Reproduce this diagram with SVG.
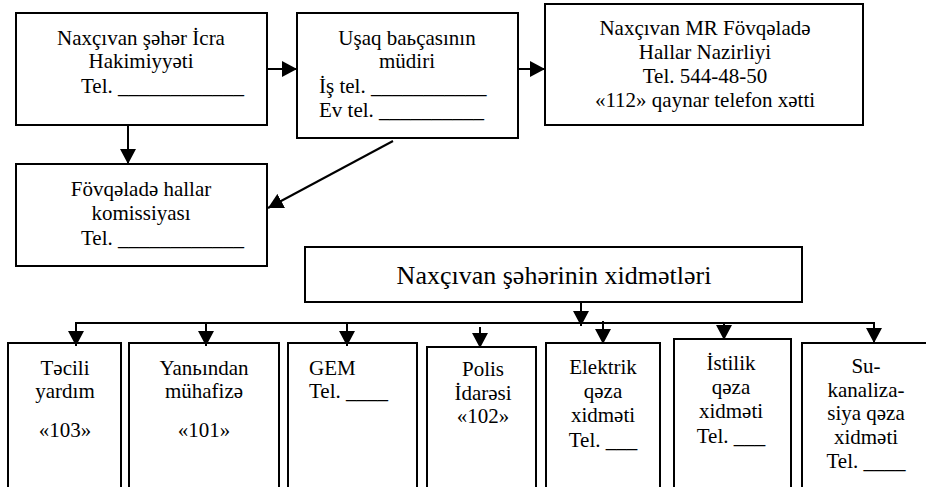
<svg xmlns="http://www.w3.org/2000/svg" width="926" height="487" viewBox="0 0 926 487">
<style>
.box{fill:#fff;stroke:#000;stroke-width:2}
.s{font-family:'Liberation Serif','Times New Roman',serif;font-size:21px;fill:#000}
.c{text-anchor:middle}
.conn path{fill:none;stroke:#000;stroke-width:2}
</style>
<defs>
<marker id="ah" viewBox="0 0 15 16" refX="15" refY="8" markerWidth="15" markerHeight="16" markerUnits="userSpaceOnUse" orient="auto">
<path d="M0,0 L15,8 L0,16 Z" fill="#000"/>
</marker>
</defs>
<rect width="926" height="487" fill="#fff"/>
<g id="icra">
<rect class="box" x="16" y="13" width="251" height="112"/>
<text class="s c" x="141" y="45">Naxçıvan şəhər İcra</text>
<text class="s c" x="141" y="68">Hakimiyyəti</text>
<text class="s" x="81" y="93">Tel. ____________</text>
</g>
<g id="mudir">
<rect class="box" x="297" y="13" width="221" height="125"/>
<text class="s c" x="407" y="45">Uşaq baьçasının</text>
<text class="s c" x="407" y="68">müdiri</text>
<text class="s" x="319" y="93">İş tel. ___________</text>
<text class="s" x="319" y="117">Ev tel. __________</text>
</g>
<g id="nazirlik">
<rect class="box" x="545" y="4" width="318" height="121"/>
<text class="s c" x="705" y="35">Naxçıvan MR Fövqəladə</text>
<text class="s c" x="705" y="59">Hallar Nazirliyi</text>
<text class="s c" x="705" y="83">Tel. 544-48-50</text>
<text class="s c" x="705" y="107">«112» qaynar telefon xətti</text>
</g>
<g id="komissiya">
<rect class="box" x="16" y="164" width="251" height="102"/>
<text class="s c" x="141" y="196">Fövqəladə hallar</text>
<text class="s c" x="141" y="220">komissiyası</text>
<text class="s" x="81" y="245">Tel. ____________</text>
</g>
<g id="xidmetler">
<rect class="box" x="305" y="247" width="497" height="55"/>
<text class="s c" x="554" y="284" style="font-size:26px">Naxçıvan şəhərinin xidmətləri</text>
</g>
<g id="tecili">
<rect class="box" x="8" y="343" width="113" height="160"/>
<text class="s c" x="65" y="375">Təcili</text>
<text class="s c" x="65" y="398">yardım</text>
<text class="s c" x="65" y="437">«103»</text>
</g>
<g id="yangin">
<rect class="box" x="129" y="343" width="150" height="160"/>
<text class="s c" x="204" y="375">Yanьından</text>
<text class="s c" x="204" y="398">mühafizə</text>
<text class="s c" x="204" y="437">«101»</text>
</g>
<g id="gem">
<rect class="box" x="288" y="343" width="129" height="160"/>
<text class="s" x="309" y="375">GEM</text>
<text class="s" x="309" y="398">Tel. ____</text>
</g>
<g id="polis">
<rect class="box" x="427" y="347" width="109" height="160"/>
<text class="s c" x="483" y="376">Polis</text>
<text class="s c" x="483" y="400">İdarəsi</text>
<text class="s c" x="483" y="423">«102»</text>
</g>
<g id="elektrik">
<rect class="box" x="546" y="343" width="114" height="160"/>
<text class="s c" x="603" y="374">Elektrik</text>
<text class="s c" x="603" y="398">qəza</text>
<text class="s c" x="603" y="422">xidməti</text>
<text class="s c" x="603" y="447">Tel. ___</text>
</g>
<g id="istilik">
<rect class="box" x="674" y="339" width="117" height="160"/>
<text class="s c" x="731" y="370">İstilik</text>
<text class="s c" x="731" y="394">qəza</text>
<text class="s c" x="731" y="418">xidməti</text>
<text class="s c" x="731" y="443">Tel. ___</text>
</g>
<g id="su">
<rect class="box" x="802" y="343" width="140" height="160"/>
<text class="s c" x="866" y="373">Su-</text>
<text class="s c" x="866" y="397">kanaliza-</text>
<text class="s c" x="866" y="420">siya qəza</text>
<text class="s c" x="866" y="444">xidməti</text>
<text class="s c" x="866" y="468">Tel. ____</text>
</g>
<g id="connectors" class="conn">
<path d="M267,69 H297" marker-end="url(#ah)"/>
<path d="M518,69 H545" marker-end="url(#ah)"/>
<path d="M128,125 V164" marker-end="url(#ah)"/>
<path d="M393,141 L268,208" marker-end="url(#ah)"/>
<path d="M581,302 V326" marker-end="url(#ah)"/>
<path d="M76,323 H874"/>
<path d="M76,322 V346" marker-end="url(#ah)"/>
<path d="M206,323 V346" marker-end="url(#ah)"/>
<path d="M347,323 V346" marker-end="url(#ah)"/>
<path d="M480,327 V348" marker-end="url(#ah)"/>
<path d="M603,321 V344" marker-end="url(#ah)"/>
<path d="M724,323 V340" marker-end="url(#ah)"/>
<path d="M874,322 V343" marker-end="url(#ah)"/>
</g>
</svg>
